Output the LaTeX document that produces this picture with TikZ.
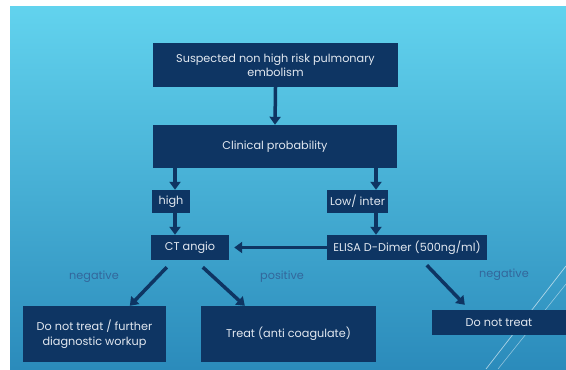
\documentclass[tikz,border=0pt]{standalone}
\usepackage{fontspec}
\setmainfont{Poppins}
\usetikzlibrary{arrows.meta}
\definecolor{navy}{HTML}{0E3563}
\definecolor{boxtext}{HTML}{E2E8F0}
\definecolor{lbltext}{HTML}{33679C}
\definecolor{bgtop}{HTML}{62D3EE}
\definecolor{bgbot}{HTML}{2B8BBB}
\begin{document}
\begin{tikzpicture}[x=1bp,y=-1bp,
	box/.style={fill=navy,text=boxtext,align=center,inner sep=0pt,font=\fontsize{11.3}{14.5}\selectfont},
	lbl/.style={text=lbltext,font=\fontsize{11.3}{13}\selectfont},
	arr/.style={draw=navy,line width=3.5bp,-{Triangle[length=8bp,width=11bp]}}]
	\useasboundingbox (0,0) rectangle (566,369);
	\fill[white] (0,0) rectangle (566,369);
	\shade[top color=bgtop,bottom color=bgbot] (10,6) rectangle (566,369);

	% slide decoration
	\draw[white,opacity=.6,line width=.7bp] (486,369) -- (566,266);
	\draw[white,opacity=.45,line width=.6bp] (498,369) -- (566,284);

	\node[box,minimum width=245bp,minimum height=44bp] (susp) at (275.5,65) {Suspected non high risk pulmonary\\embolism};
	\node[box,minimum width=244bp,minimum height=43bp] (clin) at (275,146.5) {Clinical probability};
	\node[box,minimum width=38bp,minimum height=23bp] (high) at (171,201.5) {high};
	\node[box,minimum width=61bp,minimum height=23bp] (low) at (357.5,201.5) {Low/ inter};
	\node[box,minimum width=78bp,minimum height=25bp] (ct) at (190,247.5) {CT angio};
	\node[box,minimum width=160bp,minimum height=25bp] (elisa) at (407,247.5) {ELISA D-Dimer (500ng/ml)};
	\node[box,minimum width=143bp,minimum height=56bp] (nofurther) at (94.5,334) {Do not treat / further\\diagnostic workup};
	\node[box,minimum width=175bp,minimum height=56bp] (treat) at (288.5,334) {Treat (anti coagulate)};
	\node[box,minimum width=134bp,minimum height=25bp] (notreat) at (499,322.5) {Do not treat};

	\node[lbl] (neg1) at (94,277) {negative};
	\node[lbl] (pos) at (282,277) {positive};
	\node[lbl] (neg2) at (504,275) {negative};

	\coordinate (hx) at (175,0);
	\coordinate (lx) at (376,0);

	\draw[arr] (susp.south) -- (clin.north);
	\draw[arr] (clin.south -| hx) -- (high.north -| hx);
	\draw[arr] (high.south -| hx) -- (ct.north -| hx);
	\draw[arr] (clin.south -| lx) -- (low.north -| lx);
	\draw[arr] (low.south -| lx) -- (elisa.north -| lx);
	\draw[arr,shorten >=5bp] (elisa.west) -- (ct.east);
	\draw[arr] ([shift={(16,7)}]ct.south west) -- ([xshift=107bp]nofurther.north west);
	\draw[arr] ([shift={(52,7)}]ct.south west) -- ([xshift=44bp]treat.north west);
	\draw[arr] ([shift={(100,5)}]elisa.south west) -- ([shift={(33,-5)}]notreat.north west);
\end{tikzpicture}
\end{document}
